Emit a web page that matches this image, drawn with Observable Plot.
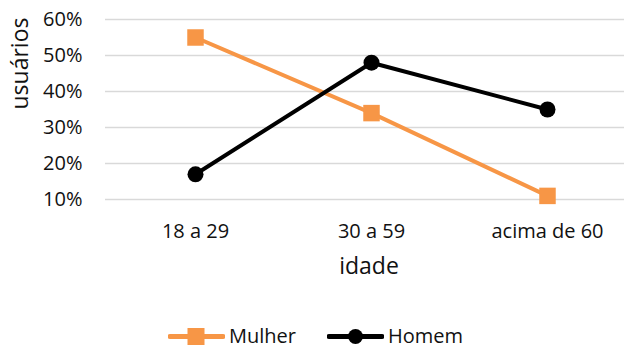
<!DOCTYPE html>
<html>
<head>
<meta charset="utf-8">
<script src="https://cdn.jsdelivr.net/npm/d3@7"></script>
<script src="https://cdn.jsdelivr.net/npm/@observablehq/plot@0.6"></script>
<style>
  body { margin: 0; background: #fff; font-family: "Open Sans", sans-serif; position: relative; width: 624px; height: 349px; overflow: hidden; }
  #chart { width: 624px; }
  .legend { position: absolute; left: 168px; top: 324px; display: flex; align-items: center; gap: 31px; height: 24px; font-size: 20px; line-height: 24px; color: #111; }
  .legend span { display: flex; align-items: center; gap: 4px; }
  .legend svg { display: block; }
</style>
</head>
<body>
<div id="chart"></div>
<script>
// Age groups and share of users (%) per group
const ageGroups = ["18 a 29", "30 a 59", "acima de 60"];
const mulher = [55, 34, 11];
const homem = [17, 48, 35];
const yTicks = [10, 20, 30, 40, 50, 60];

const series = [
  {name: "Mulher", values: mulher, color: "#F79646", symbol: "square", r: 9.3},
  {name: "Homem", values: homem, color: "#000000", symbol: "circle", r: 8}
];

const rows = series.flatMap(s => s.values.map((v, i) => ({serie: s.name, idade: ageGroups[i], valor: v})));

const marks = [
  Plot.ruleY(yTicks, {stroke: "#D9D9D9", strokeWidth: 1.5}),
  Plot.axisY(yTicks, {tickSize: 0, tickPadding: 23, tickFormat: d => d + "%", label: null, fontSize: 20}),
  Plot.axisX({tickSize: 0, tickPadding: 24, label: null, fontSize: 20}),
  Plot.text(["usuários"], {frameAnchor: "left", dx: -85, rotate: -90, fontSize: 23, fill: "#111"}),
  Plot.text(["idade"], {frameAnchor: "bottom", dx: 4, dy: 74, fontSize: 23, fill: "#111"})
];
for (const s of series) {
  const data = rows.filter(d => d.serie === s.name);
  marks.push(Plot.line(data, {x: "idade", y: "valor", stroke: s.color, strokeWidth: 4}));
  marks.push(Plot.dot(data, {x: "idade", y: "valor", fill: s.color, symbol: s.symbol, r: s.r}));
}

const chart = Plot.plot({
  width: 624,
  height: 310,
  marginTop: 19,
  marginBottom: 111,
  marginLeft: 105,
  marginRight: 0,
  style: {fontFamily: "'Open Sans', sans-serif", fontSize: "20px", color: "#111"},
  x: {type: "point", domain: ageGroups, range: [194, 547], padding: 0, label: null},
  y: {domain: [10, 60], label: null},
  marks
});
document.getElementById("chart").append(chart);

// Legend below the chart
const legend = document.createElement("div");
legend.className = "legend";
for (const s of series) {
  const item = document.createElement("span");
  const marker = s.symbol === "square"
    ? `<rect x="19.5" y="4" width="17" height="17" fill="${s.color}"/>`
    : `<circle cx="28.5" cy="12.5" r="7.5" fill="${s.color}"/>`;
  item.innerHTML = `<svg width="57" height="25"><line x1="2" x2="55" y1="12.5" y2="12.5" stroke="${s.color}" stroke-width="5" stroke-linecap="round"/>${marker}</svg>${s.name}`;
  legend.append(item);
}
document.body.append(legend);
</script>
</body>
</html>
